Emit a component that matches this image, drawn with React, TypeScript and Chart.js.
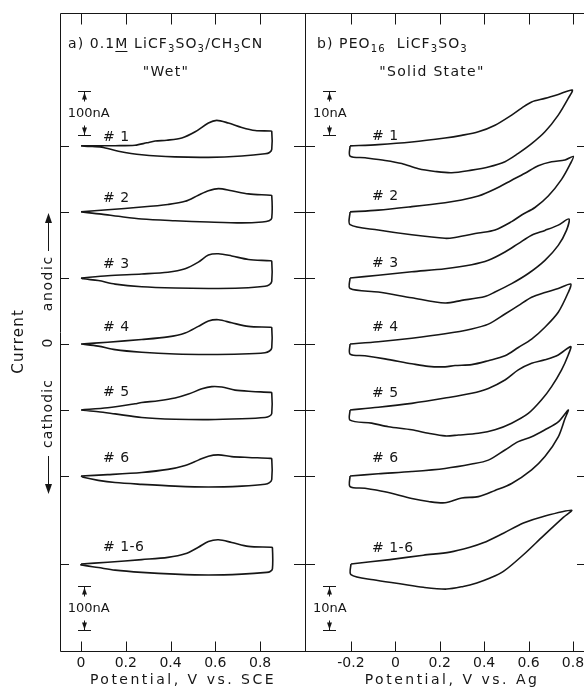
import React, { useEffect, useRef } from 'react';
import { Chart, registerables } from 'chart.js';

Chart.register(...registerables);

type Pt = [number, number];
type Seg = { t: string; sub?: boolean; u?: boolean };

// ---------------- Panel a: 0.1 M LiCF3SO3 / CH3CN "Wet" ----------------
// [potential (V vs. SCE), current (nA) relative to the trace's own zero]
const wetCycle1: Pt[] = [[0, 0], [0.08, 0.5], [0.152, 0.5], [0.241, 1.5], [0.294, 7], [0.331, 11], [0.383, 13], [0.45, 18], [0.51, 32], [0.569, 52], [0.606, 58], [0.658, 52], [0.718, 42], [0.778, 35], [0.845, 34], [0.852, 33], [0.852, -8], [0.842, -15], [0.822, -18], [0.718, -23], [0.569, -26], [0.42, -25], [0.271, -20], [0.167, -12], [0.092, -3], [0.03, -1], [0, 0]];
const wetCycle2: Pt[] = [[0, 0], [0.119, 5], [0.271, 11], [0.388, 17], [0.465, 24], [0.524, 38], [0.569, 48], [0.614, 53], [0.673, 48], [0.748, 41], [0.845, 38], [0.852, 37], [0.852, -14], [0.84, -20], [0.81, -23], [0.718, -25], [0.569, -23], [0.42, -20], [0.271, -16], [0.167, -10], [0.092, -5], [0, 0]];
const wetCycle3: Pt[] = [[0, 0], [0.119, 5], [0.271, 9], [0.388, 13], [0.465, 21], [0.524, 36], [0.569, 52], [0.614, 55], [0.673, 50], [0.748, 42], [0.845, 39], [0.852, 38], [0.852, -8], [0.842, -15], [0.822, -19], [0.718, -23], [0.569, -24], [0.42, -23], [0.271, -20], [0.152, -14], [0.077, -6], [0.01, -2], [0, 0]];
const wetCycle4: Pt[] = [[0, 0], [0.119, 4], [0.271, 10], [0.388, 16], [0.465, 25], [0.524, 40], [0.569, 52], [0.614, 55], [0.673, 48], [0.748, 40], [0.845, 38], [0.852, 37], [0.852, -9], [0.842, -16], [0.822, -20], [0.718, -23], [0.569, -24], [0.42, -23], [0.271, -19], [0.152, -13], [0.077, -5], [0, 0]];
const wetCycle5: Pt[] = [[0, 0], [0.119, 5], [0.241, 14], [0.271, 17], [0.346, 21], [0.42, 27], [0.48, 36], [0.54, 48], [0.584, 53], [0.629, 52], [0.688, 45], [0.763, 42], [0.845, 40], [0.852, 39], [0.852, -8], [0.842, -14], [0.822, -17], [0.718, -20], [0.569, -22], [0.42, -21], [0.271, -17], [0.152, -9], [0.077, -4], [0, 0]];
const wetCycle6: Pt[] = [[0, 0], [0.119, 3], [0.271, 8], [0.388, 15], [0.465, 24], [0.524, 36], [0.569, 45], [0.614, 48], [0.673, 44], [0.748, 42], [0.845, 40], [0.852, 39], [0.852, -8], [0.842, -15], [0.822, -19], [0.718, -23], [0.569, -25], [0.42, -23], [0.271, -19], [0.152, -15], [0.077, -10], [0.01, -3], [0, 0]];
const wetCycleAll: Pt[] = [[0, 0], [0.119, 4], [0.271, 10], [0.388, 15], [0.465, 23], [0.524, 38], [0.569, 51], [0.614, 55], [0.673, 49], [0.748, 40], [0.85, 38], [0.855, 37], [0.855, -11], [0.845, -17], [0.83, -19], [0.718, -23], [0.569, -25], [0.42, -23], [0.271, -19], [0.152, -14], [0.077, -8], [0, -2], [0, 0]];

const wetLabels = ['# 1', '# 2', '# 3', '# 4', '# 5', '# 6', '# 1-6'];
const wetZeroOffsets = [950, 800, 650, 500, 350, 200, 0]; // nA
const wetPotentialTicks = [0, 0.2, 0.4, 0.6, 0.8];
const wetScaleBar = 100; // nA
const wetScaleBarBases = [975, -150]; // nA

// ---------------- Panel b: PEO16 LiCF3SO3 "Solid State" ----------------
// [potential (V vs. Ag), current (nA) relative to the trace's own zero]
const solidCycle1: Pt[] = [[-0.204, 0], [-0.077, 0.3], [0.074, 0.9], [0.224, 1.8], [0.299, 2.4], [0.374, 3.2], [0.449, 4.7], [0.524, 7.0], [0.569, 8.6], [0.614, 10.0], [0.674, 10.8], [0.734, 11.7], [0.797, 12.7], [0.779, 10.8], [0.734, 7.0], [0.674, 3.2], [0.614, 0.5], [0.554, -1.7], [0.494, -3.6], [0.419, -4.8], [0.344, -5.5], [0.254, -6.1], [0.179, -5.8], [0.104, -5.2], [0.029, -4.0], [-0.046, -3.3], [-0.136, -2.7], [-0.204, -2.3], [-0.204, 0]];
const solidCycle2: Pt[] = [[-0.204, 0], [-0.077, 0.4], [0.074, 1.2], [0.224, 2.1], [0.299, 2.7], [0.374, 3.6], [0.449, 5.2], [0.524, 7.2], [0.584, 8.8], [0.644, 10.5], [0.704, 11.4], [0.764, 11.8], [0.802, 12.6], [0.787, 10.8], [0.749, 7.4], [0.689, 3.6], [0.629, 1.0], [0.569, -0.7], [0.524, -2.2], [0.449, -4.1], [0.374, -4.8], [0.269, -5.8], [0.224, -6.0], [0.074, -5.2], [-0.077, -4.1], [-0.204, -2.9], [-0.204, 0]];
const solidCycle3: Pt[] = [[-0.204, 0], [-0.077, 0.6], [0.074, 1.4], [0.224, 2.1], [0.344, 3.0], [0.419, 4.0], [0.494, 5.9], [0.554, 7.8], [0.614, 9.7], [0.674, 10.8], [0.734, 12.0], [0.782, 13.4], [0.771, 10.8], [0.734, 7.4], [0.674, 4.0], [0.599, 1.0], [0.524, -1.3], [0.449, -3.2], [0.404, -4.2], [0.299, -5.1], [0.224, -5.7], [0.074, -4.5], [-0.077, -3.2], [-0.204, -2.4], [-0.204, 0]];
const solidCycle4: Pt[] = [[-0.204, 0], [-0.077, 0.5], [0.074, 1.3], [0.224, 2.3], [0.344, 3.4], [0.419, 4.5], [0.494, 6.8], [0.554, 8.7], [0.614, 10.6], [0.674, 11.7], [0.734, 12.6], [0.79, 13.6], [0.779, 11.7], [0.734, 7.2], [0.674, 3.8], [0.614, 1.1], [0.554, -0.8], [0.494, -2.7], [0.419, -3.8], [0.344, -4.7], [0.269, -4.9], [0.224, -5.2], [0.149, -5.1], [0.074, -4.5], [-0.047, -3.4], [-0.137, -2.7], [-0.204, -2.3], [-0.204, 0]];
const solidCycle5: Pt[] = [[-0.204, 0], [-0.077, 0.6], [0.074, 1.5], [0.224, 2.7], [0.344, 3.8], [0.419, 4.9], [0.494, 6.8], [0.554, 9.1], [0.614, 10.6], [0.674, 11.4], [0.734, 12.5], [0.79, 14.4], [0.779, 12.5], [0.749, 9.1], [0.704, 5.3], [0.659, 2.3], [0.599, -0.8], [0.524, -3.0], [0.449, -4.5], [0.374, -5.3], [0.284, -5.7], [0.224, -5.9], [0.149, -5.3], [0.074, -4.5], [-0.031, -3.8], [-0.107, -3.0], [-0.204, -2.3], [-0.204, 0]];
const solidCycle6: Pt[] = [[-0.204, 0], [-0.077, 0.5], [0.074, 1.0], [0.224, 1.7], [0.344, 2.7], [0.419, 3.6], [0.494, 5.9], [0.554, 7.8], [0.614, 8.9], [0.674, 10.5], [0.734, 12.3], [0.779, 15.0], [0.764, 13.0], [0.734, 8.9], [0.674, 4.4], [0.614, 1.4], [0.524, -1.7], [0.449, -3.3], [0.374, -4.7], [0.299, -5.0], [0.224, -6.1], [0.149, -5.8], [0.074, -5.1], [-0.047, -3.6], [-0.137, -2.8], [-0.204, -2.4], [-0.204, 0]];
const solidCycleAll: Pt[] = [[-0.2, 0], [-0.024, 1.0], [0.126, 2.0], [0.246, 2.7], [0.336, 3.8], [0.396, 4.8], [0.487, 7.0], [0.577, 9.3], [0.667, 10.8], [0.794, 12.2], [0.757, 10.6], [0.667, 6.4], [0.577, 2.1], [0.487, -1.7], [0.427, -3.2], [0.367, -4.3], [0.306, -5.1], [0.231, -5.7], [0.126, -5.3], [0.021, -4.5], [-0.099, -3.6], [-0.2, -2.4], [-0.2, 0]];

const solidLabels = ['# 1', '# 2', '# 3', '# 4', '# 5', '# 6', '# 1-6'];
const solidZeroOffsets = [95, 80, 65, 50, 35, 20, 0]; // nA
const solidPotentialTicks = [-0.2, 0, 0.2, 0.4, 0.6, 0.8];
const solidScaleBar = 10; // nA
const solidScaleBarBases = [97.5, -15]; // nA

const wetHeading: Seg[] = [{ t: 'a) 0.1' }, { t: 'M', u: true }, { t: ' LiCF' }, { t: '3', sub: true }, { t: 'SO' }, { t: '3', sub: true }, { t: '/CH' }, { t: '3', sub: true }, { t: 'CN' }];
const solidHeading: Seg[] = [{ t: 'b) PEO' }, { t: '16', sub: true }, { t: '  LiCF' }, { t: '3', sub: true }, { t: 'SO' }, { t: '3', sub: true }];

const FONT = '"DejaVu Sans", "Liberation Sans", sans-serif';
const INK = '#161616';

interface PanelDef {
  id: string;
  offsetX: number;
  canvasW: number;
  padLeft: number;
  padRight: number;
  xMin: number;
  xMax: number;
  yMin: number;
  yMax: number;
  ticks: number[];
  traces: Pt[][];
  offsets: number[];
  labels: string[];
  labelX: number;
  labelDy: number[];
  barSize: number;
  barBases: number[];
  barX: number;
  barText: string;
  barTextX: number;
  heading: Seg[];
  headingPos: [number, number];
  sub: string;
  subPos: [number, number];
  xTitle: string;
  xTitlePos: [number, number];
  leftTick: [number, number];
  rightTick: [number, number];
  drawRight: boolean;
  sideText: boolean;
}

const panels: PanelDef[] = [
  {
    id: 'wet', offsetX: 0, canvasW: 310, padLeft: 60, padRight: 4,
    xMin: -0.094, xMax: 1.005, yMin: -200, yMax: 1252,
    ticks: wetPotentialTicks,
    traces: [wetCycle1, wetCycle2, wetCycle3, wetCycle4, wetCycle5, wetCycle6, wetCycleAll],
    offsets: wetZeroOffsets, labels: wetLabels, labelX: 0.098,
    labelDy: [-9, -14, -14, -17, -18, -18, -17],
    barSize: wetScaleBar, barBases: wetScaleBarBases, barX: 0.011, barText: '100nA', barTextX: 0.034,
    heading: wetHeading, headingPos: [68, 48], sub: '"Wet"', subPos: [166, 72],
    xTitle: 'Potential, V vs. SCE', xTitlePos: [183, 680],
    leftTick: [0, 9], rightTick: [-12, 0], drawRight: true, sideText: true,
  },
  {
    id: 'solid', offsetX: 300, canvasW: 284, padLeft: 5, padRight: 0,
    xMin: -0.407, xMax: 0.85, yMin: -20, yMax: 125.2,
    ticks: solidPotentialTicks,
    traces: [solidCycle1, solidCycle2, solidCycle3, solidCycle4, solidCycle5, solidCycle6, solidCycleAll],
    offsets: solidZeroOffsets, labels: solidLabels, labelX: -0.105,
    labelDy: [-10, -16, -15, -17, -17, -18, -16],
    barSize: solidScaleBar, barBases: solidScaleBarBases, barX: -0.3, barText: '10nA', barTextX: -0.295,
    heading: solidHeading, headingPos: [317, 48], sub: '"Solid State"', subPos: [432, 72],
    xTitle: 'Potential, V vs. Ag', xTitlePos: [452, 680],
    leftTick: [0, 10], rightTick: [-7, 0], drawRight: false, sideText: false,
  },
];

function seg(ctx: CanvasRenderingContext2D, x1: number, y1: number, x2: number, y2: number) {
  ctx.beginPath();
  ctx.moveTo(x1, y1);
  ctx.lineTo(x2, y2);
  ctx.stroke();
}

function tri(ctx: CanvasRenderingContext2D, x1: number, y1: number, x2: number, y2: number, x3: number, y3: number) {
  ctx.beginPath();
  ctx.moveTo(x1, y1);
  ctx.lineTo(x2, y2);
  ctx.lineTo(x3, y3);
  ctx.closePath();
  ctx.fill();
}

function drawRich(ctx: CanvasRenderingContext2D, segs: Seg[], x: number, y: number, size: number, spacing: number) {
  let cx = x;
  ctx.textAlign = 'left';
  ctx.textBaseline = 'alphabetic';
  (ctx as any).letterSpacing = `${spacing}px`;
  for (const s of segs) {
    const fs = s.sub ? size * 0.72 : size;
    ctx.font = `${fs}px ${FONT}`;
    const dy = s.sub ? size * 0.3 : 0;
    ctx.fillText(s.t, cx, y + dy);
    const w = ctx.measureText(s.t).width;
    if (s.u) seg(ctx, cx, y + 3.5, cx + w - spacing, y + 3.5);
    cx += w;
  }
}

function rotText(ctx: CanvasRenderingContext2D, text: string, x: number, y: number, size: number, spacing: number) {
  ctx.save();
  ctx.translate(x, y);
  ctx.rotate(-Math.PI / 2);
  ctx.font = `${size}px ${FONT}`;
  (ctx as any).letterSpacing = `${spacing}px`;
  ctx.textAlign = 'center';
  ctx.textBaseline = 'middle';
  ctx.fillText(text, spacing / 2, 0);
  ctx.restore();
}

function decorPlugin(p: PanelDef) {
  return {
    id: 'decor_' + p.id,
    afterDraw(chart: any) {
      const ctx: CanvasRenderingContext2D = chart.ctx;
      const a = chart.chartArea;
      const xs = chart.scales.x;
      const ys = chart.scales.y;
      ctx.save();
      ctx.strokeStyle = INK;
      ctx.fillStyle = INK;
      ctx.lineWidth = 1;
      const L = a.left + 0.5, R = a.right - 0.5, T = a.top + 0.5, B = a.bottom - 0.5;
      seg(ctx, L, T, a.right, T);
      seg(ctx, L, B, a.right, B);
      seg(ctx, L, T, L, B);
      if (p.drawRight) seg(ctx, R, T, R, B);

      for (const t of p.ticks) {
        const px = Math.round(xs.getPixelForValue(t)) + 0.5;
        seg(ctx, px, T, px, T + 11);
        seg(ctx, px, B, px, B - 10);
      }
      for (const o of p.offsets) {
        const py = Math.round(ys.getPixelForValue(o)) + 0.5;
        seg(ctx, a.left + p.leftTick[0], py, a.left + p.leftTick[1], py);
        seg(ctx, a.right + p.rightTick[0], py, a.right + p.rightTick[1], py);
      }

      // trace labels
      ctx.font = `14px ${FONT}`;
      (ctx as any).letterSpacing = '0.5px';
      ctx.textAlign = 'left';
      ctx.textBaseline = 'middle';
      p.labels.forEach((lab, i) => {
        ctx.fillText(lab, xs.getPixelForValue(p.labelX), ys.getPixelForValue(p.offsets[i]) + p.labelDy[i]);
      });

      // scale bars
      for (const base of p.barBases) {
        const yTop = Math.round(ys.getPixelForValue(base + p.barSize)) + 0.5;
        const yBot = Math.round(ys.getPixelForValue(base)) + 0.5;
        const cx = Math.round(xs.getPixelForValue(p.barX)) + 0.5;
        seg(ctx, cx - 6.5, yTop, cx + 6.5, yTop);
        seg(ctx, cx - 6.5, yBot, cx + 6.5, yBot);
        seg(ctx, cx, yTop, cx, yTop + 10);
        seg(ctx, cx, yBot - 10, cx, yBot);
        tri(ctx, cx, yTop + 1, cx - 2.5, yTop + 8, cx + 2.5, yTop + 8);
        tri(ctx, cx, yBot - 1, cx - 2.5, yBot - 8, cx + 2.5, yBot - 8);
        ctx.font = `13px ${FONT}`;
        (ctx as any).letterSpacing = '0px';
        ctx.textAlign = 'center';
        ctx.textBaseline = 'middle';
        ctx.fillText(p.barText, xs.getPixelForValue(p.barTextX), (yTop + yBot) / 2);
      }

      // page-coordinate texts
      ctx.translate(-p.offsetX, 0);
      drawRich(ctx, p.heading, p.headingPos[0], p.headingPos[1], 14, 1.1);
      ctx.font = `14px ${FONT}`;
      (ctx as any).letterSpacing = '1.3px';
      ctx.textAlign = 'center';
      ctx.textBaseline = 'middle';
      ctx.fillText(p.sub, p.subPos[0], p.subPos[1]);

      (ctx as any).letterSpacing = '2.5px';
      ctx.fillText(p.xTitle, p.xTitlePos[0], p.xTitlePos[1]);

      if (p.sideText) {
        rotText(ctx, 'Current', 19, 342, 15, 1.2);
        rotText(ctx, 'anodic', 48, 284, 14, 1.6);
        rotText(ctx, '0', 48, 343, 14, 0);
        rotText(ctx, 'cathodic', 48, 414, 14, 1.2);
        seg(ctx, 48.5, 251, 48.5, 220);
        tri(ctx, 48.5, 213, 45, 223, 52, 223);
        seg(ctx, 48.5, 456, 48.5, 487);
        tri(ctx, 48.5, 494, 45, 484, 52, 484);
      }
      ctx.restore();
    },
  };
}

function buildChart(canvas: HTMLCanvasElement, p: PanelDef) {
  return new Chart(canvas, {
    type: 'scatter',
    data: {
      datasets: p.traces.map((tr, i) => ({
        label: p.labels[i],
        data: tr.map(([v, c]) => ({ x: v, y: c + p.offsets[i] })),
        showLine: true,
        borderColor: INK,
        backgroundColor: INK,
        borderWidth: 1.6,
        pointRadius: 0,
        pointHoverRadius: 0,
        tension: 0.3,
        fill: false,
      })),
    },
    options: {
      animation: false,
      responsive: false,
      maintainAspectRatio: false,
      events: [],
      layout: { padding: { left: p.padLeft, right: p.padRight, top: 13, bottom: 0 } },
      plugins: { legend: { display: false }, tooltip: { enabled: false }, title: { display: false } },
      scales: {
        x: {
          type: 'linear',
          position: 'bottom',
          min: p.xMin,
          max: p.xMax,
          grid: { display: false, drawTicks: false },
          border: { display: false },
          ticks: {
            font: { family: FONT, size: 14 },
            color: INK,
            padding: 3,
            autoSkip: false,
            maxRotation: 0,
            callback: (v: any) => (Number(v) === 0 ? '0' : Number(v).toFixed(1)),
          },
          afterBuildTicks: (s: any) => {
            s.ticks = p.ticks.map((v) => ({ value: v }));
          },
          afterFit: (s: any) => {
            s.height = 36;
            s.paddingLeft = 0;
            s.paddingRight = 0;
          },
        },
        y: { type: 'linear', min: p.yMin, max: p.yMax, display: false },
      },
    } as any,
    plugins: [decorPlugin(p) as any],
  });
}

export default function App() {
  const refA = useRef<HTMLCanvasElement>(null);
  const refB = useRef<HTMLCanvasElement>(null);

  useEffect(() => {
    const charts: Chart[] = [];
    if (refA.current) charts.push(buildChart(refA.current, panels[0]));
    if (refB.current) charts.push(buildChart(refB.current, panels[1]));
    return () => charts.forEach((c) => c.destroy());
  }, []);

  return (
    <div style={{ position: 'absolute', left: 0, top: 0, width: 584, height: 688, overflow: 'hidden', background: '#fff' }}>
      <canvas ref={refA} width={panels[0].canvasW} height={688}
        style={{ position: 'absolute', left: panels[0].offsetX, top: 0, width: panels[0].canvasW, height: 688 }} />
      <canvas ref={refB} width={panels[1].canvasW} height={688}
        style={{ position: 'absolute', left: panels[1].offsetX, top: 0, width: panels[1].canvasW, height: 688 }} />
    </div>
  );
}
